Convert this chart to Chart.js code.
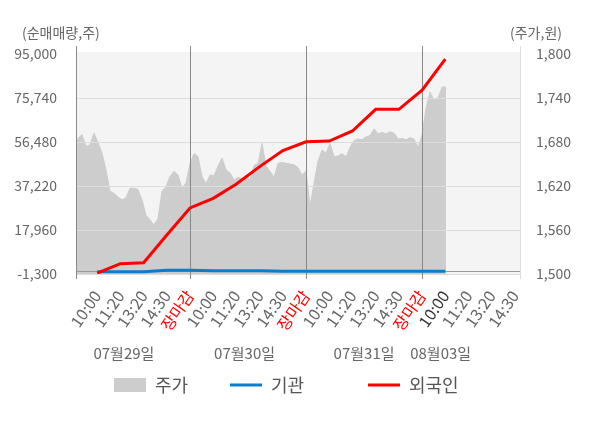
<!DOCTYPE html>
<html>
<head>
<meta charset="utf-8">
<script src="https://cdn.jsdelivr.net/npm/chart.js@4.4.0/dist/chart.umd.min.js"></script>
<style>
  html, body { margin: 0; padding: 0; background: #fff; }
</style>
</head>
<body>
<canvas id="myChart" width="600" height="428"></canvas>
<script>
// tick labels
var timeLabels = ['10:00', '11:20', '13:20', '14:30', '장마감',
                  '10:00', '11:20', '13:20', '14:30', '장마감',
                  '10:00', '11:20', '13:20', '14:30', '장마감',
                  '10:00', '11:20', '13:20', '14:30'];
var dayLabels = ['07월29일', '07월30일', '07월31일', '08월03일'];
var leftTicks = [-1300, 17960, 37220, 56480, 75740, 95000];
var rightTicks = [1500, 1560, 1620, 1680, 1740, 1800];

// 외국인 / 기관 cumulative net buying, one value per time slot (10:00 on day 1 .. 10:00 on day 4)
var foreign = [-900, 3200, 3650, 15800, 27600, 31800, 38100, 45700, 52700, 56600,
               56900, 61300, 70800, 70800, 79200, 92800];
var institution = [-300, -300, -300, 300, 300, 150, 150, 150, -100, -100,
                   -100, -100, -100, -100, -100, -100];

// 주가, sampled evenly through each trading day
var priceDay1 = [1670, 1685, 1690, 1674, 1676, 1692, 1679, 1665, 1642, 1613,
                 1610, 1605, 1601, 1604, 1617, 1617, 1615, 1601, 1580, 1574,
                 1567, 1576, 1613, 1619, 1633, 1640, 1635, 1617, 1624];
var priceDay2 = [1651, 1664, 1660, 1633, 1623, 1635, 1634, 1647, 1658, 1642,
                 1638, 1628, 1632, 1630, 1634, 1629, 1648, 1651, 1678, 1647,
                 1640, 1632, 1651, 1652, 1651, 1650, 1649, 1645, 1635];
var priceDay3 = [1640, 1592, 1624, 1654, 1669, 1665, 1678, 1660, 1661, 1664,
                 1660, 1673, 1682, 1684, 1683, 1687, 1689, 1698, 1691, 1693,
                 1691, 1694, 1692, 1684, 1685, 1683, 1686, 1684, 1672];
var priceDay4 = [1690, 1726, 1748, 1737, 1740, 1755, 1755];

var SLOTS = 5;        // labelled slots per day
var SAMPLES = 29;     // price samples per day

function dayPoints(arr, day) {
  return arr.map(function (v, k) {
    return { x: day * SLOTS + k * SLOTS / SAMPLES, y: v };
  });
}
var pricePoints = [].concat(dayPoints(priceDay1, 0), dayPoints(priceDay2, 1),
                            dayPoints(priceDay3, 2), dayPoints(priceDay4, 3));
var foreignPoints = foreign.map(function (v, i) { return { x: i + 1, y: v }; });
var institutionPoints = institution.map(function (v, i) { return { x: i + 1, y: v }; });

var FONT = "'Noto Sans CJK KR', 'Noto Sans', sans-serif";
Chart.defaults.font.family = FONT;

function fmt(v) { return Number(v).toLocaleString('en-US'); }

var decor = {
  id: 'decor',
  beforeDraw: function (chart) {
    var a = chart.chartArea, ctx = chart.ctx;
    ctx.save();
    ctx.fillStyle = '#f4f4f4';
    ctx.fillRect(a.left, a.top - 2, a.right - a.left, a.bottom - a.top + 2);
    ctx.restore();
  },
  afterDatasetDraw: function (chart, args) {
    if (args.index !== 0) return;
    var a = chart.chartArea, ctx = chart.ctx;
    var xs = chart.scales.x, ys = chart.scales.y;
    ctx.save();
    ctx.lineWidth = 1;
    // horizontal grid
    ctx.strokeStyle = '#dddddd';
    leftTicks.slice(0, -1).forEach(function (v) {
      var py = Math.round(ys.getPixelForValue(v)) + 0.5;
      ctx.beginPath();
      ctx.moveTo(a.left, py);
      ctx.lineTo(a.right, py);
      ctx.stroke();
    });
    // zero line
    var zy = Math.round(ys.getPixelForValue(0)) + 0.5;
    ctx.strokeStyle = '#999999';
    ctx.beginPath();
    ctx.moveTo(a.left, zy);
    ctx.lineTo(a.right, zy);
    ctx.stroke();
    // right edge
    ctx.strokeStyle = '#dddddd';
    ctx.beginPath();
    ctx.moveTo(Math.round(a.right) + 0.5, a.top - 8);
    ctx.lineTo(Math.round(a.right) + 0.5, a.bottom + 5);
    ctx.stroke();
    // left edge and day separators
    ctx.strokeStyle = '#888888';
    [a.left, xs.getPixelForValue(5), xs.getPixelForValue(10), xs.getPixelForValue(15)].forEach(function (px) {
      px = Math.round(px) + 0.5;
      ctx.beginPath();
      ctx.moveTo(px, a.top - 8);
      ctx.lineTo(px, a.bottom + 5);
      ctx.stroke();
    });
    ctx.restore();
  },
  afterDraw: function (chart) {
    var a = chart.chartArea, ctx = chart.ctx, xs = chart.scales.x;
    var sets = chart.data.datasets;
    ctx.save();
    // axis titles
    ctx.fillStyle = '#666666';
    ctx.font = '14px ' + FONT;
    ctx.textBaseline = 'middle';
    ctx.textAlign = 'left';
    ctx.fillText('(순매매량,주)', a.left - 54, 33);
    ctx.textAlign = 'right';
    ctx.fillText('(주가,원)', a.right + 42, 33);
    // dates under the time labels
    ctx.font = '15px ' + FONT;
    ctx.textAlign = 'center';
    var datePos = [2.15, 7.35, 12.5, 15.8];
    dayLabels.forEach(function (d, i) {
      ctx.fillText(d, xs.getPixelForValue(datePos[i]), 353);
    });
    // legend
    var legendX = [114, 230, 368];
    var ly = 385;
    ctx.font = '18px ' + FONT;
    ctx.textAlign = 'left';
    sets.forEach(function (ds, i) {
      var lx = legendX[i];
      if (i === 0) {
        ctx.fillStyle = ds.backgroundColor;
        ctx.fillRect(lx, ly - 7, 32, 14);
      } else {
        ctx.strokeStyle = ds.borderColor;
        ctx.lineWidth = 3;
        ctx.beginPath();
        ctx.moveTo(lx, ly);
        ctx.lineTo(lx + 32, ly);
        ctx.stroke();
      }
      ctx.fillStyle = '#555555';
      ctx.fillText(ds.label, lx + 41, ly);
    });
    ctx.restore();
  }
};

var ctx = document.getElementById('myChart').getContext('2d');
var myChart = new Chart(ctx, {
  type: 'line',
  data: {
    datasets: [{
      label: '주가',
      data: pricePoints,
      yAxisID: 'y1',
      borderColor: '#cdcdcd',
      borderWidth: 1,
      backgroundColor: '#cdcdcd',
      fill: 'start',
      pointRadius: 0,
      order: 3
    }, {
      label: '기관',
      data: institutionPoints,
      yAxisID: 'y',
      borderColor: '#0a7dcc',
      borderWidth: 3,
      pointRadius: 0,
      fill: false,
      order: 2
    }, {
      label: '외국인',
      data: foreignPoints,
      yAxisID: 'y',
      borderColor: '#ff0000',
      borderWidth: 3,
      pointRadius: 0,
      fill: false,
      order: 1
    }]
  },
  options: {
    responsive: false,
    animation: false,
    layout: { padding: { top: 54, left: 0, right: 24, bottom: 0 } },
    plugins: {
      tooltip: { enabled: false },
      legend: { display: false }
    },
    scales: {
      x: {
        type: 'linear',
        min: 0.086,
        max: 19.22,
        grid: { display: false },
        border: { display: false },
        afterBuildTicks: function (s) {
          s.ticks = timeLabels.map(function (t, i) { return { value: i + 1 }; });
        },
        afterFit: function (s) { s.height = 154; },
        ticks: {
          autoSkip: false,
          minRotation: 55,
          maxRotation: 55,
          padding: 5,
          font: { size: 16 },
          color: function (c) {
            var t = timeLabels[c.index];
            if (t === '장마감') return '#ff0000';
            if (c.index === 15) return '#333333';
            return '#666666';
          },
          callback: function (v, i) { return timeLabels[i]; }
        }
      },
      y: {
        position: 'left',
        min: -1300,
        max: 95000,
        grid: { display: false },
        border: { display: false },
        afterBuildTicks: function (s) {
          s.ticks = leftTicks.map(function (v) { return { value: v }; });
        },
        afterFit: function (s) { s.width = 76; },
        ticks: {
          padding: 11,
          color: '#666666',
          font: { size: 14 },
          callback: function (v) { return fmt(v); }
        }
      },
      y1: {
        position: 'right',
        min: 1500,
        max: 1800,
        grid: { display: false },
        border: { display: false },
        afterBuildTicks: function (s) {
          s.ticks = rightTicks.map(function (v) { return { value: v }; });
        },
        afterFit: function (s) { s.width = 56; },
        ticks: {
          padding: 8,
          color: '#666666',
          font: { size: 14 },
          callback: function (v) { return fmt(v); }
        }
      }
    }
  },
  plugins: [decor]
});
</script>
</body>
</html>
